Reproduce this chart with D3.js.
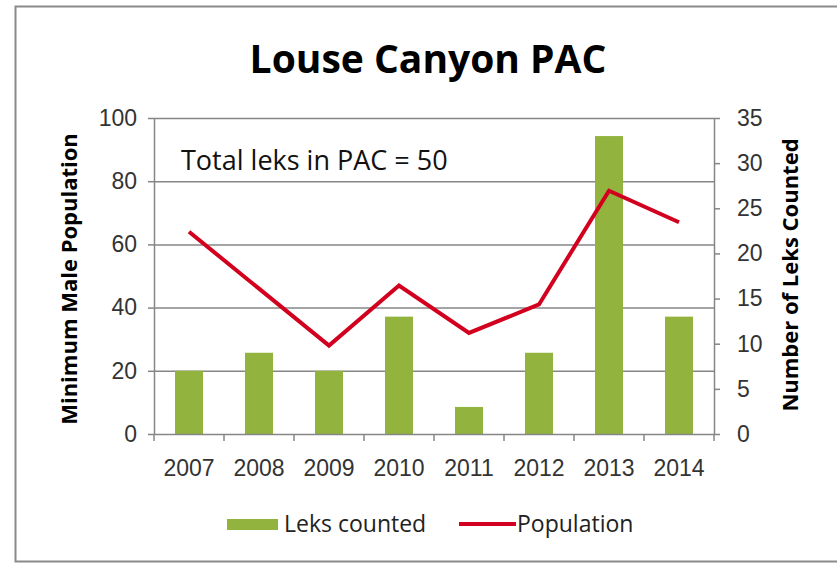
<!DOCTYPE html>
<html>
<head>
<meta charset="utf-8">
<script src="https://cdn.jsdelivr.net/npm/d3@7"></script>
<style>
  body { margin: 0; background: #fff; }
  svg { display: block; font-family: "Open Sans", "Noto Sans", sans-serif; }
</style>
</head>
<body>
<div id="app"></div>
<script>
const years = ['2007', '2008', '2009', '2010', '2011', '2012', '2013', '2014'];
const leksCounted = [7, 9, 7, 13, 3, 9, 33, 13];
const population = [64, 46, 28, 47, 32, 41, 77, 67];
const popTicks = [0, 20, 40, 60, 80, 100];
const lekTicks = [0, 5, 10, 15, 20, 25, 30, 35];

const width = 837;
const height = 563;
const plot = { left: 154, right: 714, top: 118, bottom: 434 };
const axisGrey = '#868686';

const svg = d3.select('#app').append('svg')
	.attr('width', width)
	.attr('height', height);

// chart frame
svg.append('rect')
	.attr('x', 15.5).attr('y', 6.5)
	.attr('width', 840).attr('height', 555)
	.attr('fill', '#fff')
	.attr('stroke', '#8a8a8a')
	.attr('stroke-width', 2);

const x = d3.scaleBand()
	.domain(years)
	.range([plot.left, plot.right])
	.paddingInner(0.6)
	.paddingOuter(0.3);

const yPop = d3.scaleLinear().domain([0, 100]).range([plot.bottom, plot.top]);
const yLek = d3.scaleLinear().domain([0, 35]).range([plot.bottom, plot.top]);

// gridlines
svg.append('g')
	.selectAll('line')
	.data(popTicks.filter((d) => d > 0))
	.join('line')
	.attr('x1', plot.left).attr('x2', plot.right)
	.attr('y1', (d) => yPop(d) + 0.5).attr('y2', (d) => yPop(d) + 0.5)
	.attr('stroke', axisGrey)
	.attr('stroke-width', 1.5);

// bars
svg.append('g')
	.selectAll('rect')
	.data(years)
	.join('rect')
	.attr('x', (d) => x(d))
	.attr('y', (d, i) => yLek(leksCounted[i]))
	.attr('width', x.bandwidth())
	.attr('height', (d, i) => yLek(0) - yLek(leksCounted[i]))
	.attr('fill', '#92b43f');

// population line
const line = d3.line()
	.x((d, i) => x(years[i]) + x.bandwidth() / 2)
	.y((d) => yPop(d));

svg.append('path')
	.datum(population)
	.attr('d', line)
	.attr('fill', 'none')
	.attr('stroke', '#d2001e')
	.attr('stroke-width', 4);

// axes
const styleAxis = (g) => {
	g.select('.domain').attr('stroke', axisGrey).attr('stroke-width', 1.5);
	g.selectAll('.tick line').attr('stroke', axisGrey).attr('stroke-width', 1.5);
	g.selectAll('.tick text').attr('fill', '#333').attr('font-size', 23);
};

svg.append('g')
	.attr('transform', `translate(${plot.left},0)`)
	.call(d3.axisLeft(yPop).tickValues(popTicks).tickSize(6).tickSizeOuter(0).tickPadding(11))
	.call(styleAxis);

svg.append('g')
	.attr('transform', `translate(${plot.right},0)`)
	.call(d3.axisRight(yLek).tickValues(lekTicks).tickSize(6).tickSizeOuter(0).tickPadding(17))
	.call(styleAxis);

const xAxis = svg.append('g')
	.attr('transform', `translate(0,${plot.bottom})`)
	.call(d3.axisBottom(x).tickSize(0).tickSizeOuter(0).tickPadding(26))
	.call(styleAxis);

// category boundary ticks
xAxis.append('g')
	.selectAll('line')
	.data(d3.range(years.length + 1))
	.join('line')
	.attr('x1', (i) => plot.left + i * x.step())
	.attr('x2', (i) => plot.left + i * x.step())
	.attr('y1', 0).attr('y2', 7)
	.attr('stroke', axisGrey)
	.attr('stroke-width', 1.5);

// title
svg.append('text')
	.attr('x', 428).attr('y', 73)
	.attr('text-anchor', 'middle')
	.attr('font-size', 39)
	.attr('font-weight', 'bold')
	.attr('fill', '#000')
	.text('Louse Canyon PAC');

svg.append('text')
	.attr('x', 181).attr('y', 170)
	.attr('font-size', 27)
	.attr('fill', '#111')
	.text('Total leks in PAC = 50');

// axis titles
svg.append('text')
	.attr('transform', 'translate(77,279) rotate(-90)')
	.attr('text-anchor', 'middle')
	.attr('font-size', 22)
	.attr('font-weight', 'bold')
	.text('Minimum Male Population');

svg.append('text')
	.attr('transform', 'translate(798,275) rotate(-90)')
	.attr('text-anchor', 'middle')
	.attr('font-size', 22)
	.attr('font-weight', 'bold')
	.text('Number of Leks Counted');

// legend
const legend = svg.append('g');
legend.append('rect')
	.attr('x', 227).attr('y', 519)
	.attr('width', 51).attr('height', 11)
	.attr('fill', '#92b43f');
legend.append('text')
	.attr('x', 284).attr('y', 532)
	.attr('font-size', 23)
	.attr('fill', '#222')
	.text('Leks counted');
legend.append('line')
	.attr('x1', 459).attr('x2', 516)
	.attr('y1', 524).attr('y2', 524)
	.attr('stroke', '#d2001e')
	.attr('stroke-width', 4);
legend.append('text')
	.attr('x', 517).attr('y', 532)
	.attr('font-size', 23)
	.attr('fill', '#222')
	.text('Population');
</script>
</body>
</html>
